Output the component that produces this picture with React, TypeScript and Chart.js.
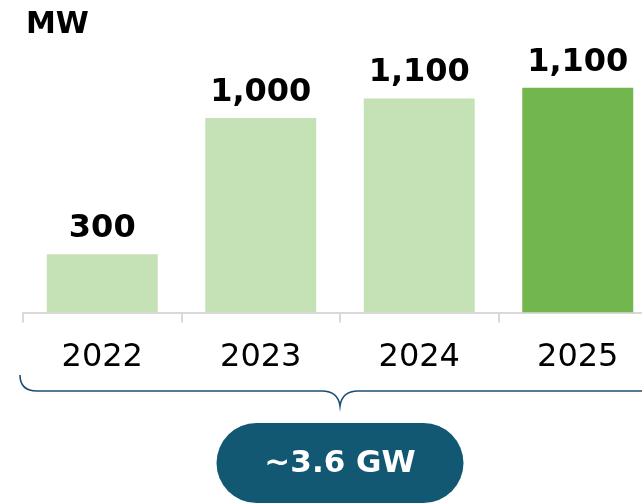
import React, { useEffect, useRef } from "react";
import { Chart, registerables } from "chart.js";

Chart.register(...registerables);

const categories = ["2022", "2023", "2024", "2025"];
const values = [300, 1000, 1100, 1155];
const valueLabels = ["300", "1,000", "1,100", "1,100"];
const barColors = ["#c5e2b6", "#c5e2b6", "#c5e2b6", "#72b74d"];
const unitLabel = "MW";
const totalLabel = "~3.6 GW";

const FONT = "'DejaVu Sans', Verdana, sans-serif";

const overlayPlugin = {
  id: "overlay",
  afterDatasetsDraw(chart: any) {
    const ctx = chart.ctx;
    const meta = chart.getDatasetMeta(0);
    ctx.save();
    // value labels
    ctx.fillStyle = "#000";
    ctx.font = `bold 32px ${FONT}`;
    ctx.textAlign = "center";
    ctx.textBaseline = "alphabetic";
    meta.data.forEach((bar: any, i: number) => {
      ctx.fillText(valueLabels[i], bar.x, bar.y - 17);
    });
    // unit label
    ctx.textAlign = "left";
    ctx.font = `bold 30px ${FONT}`;
    ctx.fillText(unitLabel, 26, 33);
    // brace
    const area = chart.chartArea;
    const left = area.left - 3;
    const right = area.right + 3;
    const mid = (left + right) / 2;
    const yTop = 375;
    const yLine = 391;
    const yTip = 406;
    ctx.strokeStyle = "#1b4f72";
    ctx.lineWidth = 1.6;
    ctx.beginPath();
    ctx.moveTo(left, yTop);
    ctx.quadraticCurveTo(left, yLine, left + 17, yLine);
    ctx.lineTo(mid - 18, yLine);
    ctx.quadraticCurveTo(mid - 2, yLine, mid, yTip);
    ctx.quadraticCurveTo(mid + 2, yLine, mid + 18, yLine);
    ctx.lineTo(right - 17, yLine);
    ctx.quadraticCurveTo(right, yLine, right, yTop);
    ctx.stroke();
    // pill
    const pw = 247;
    const ph = 80;
    const px = mid - pw / 2;
    const py = 423;
    const r = ph / 2;
    ctx.fillStyle = "#135873";
    ctx.beginPath();
    ctx.moveTo(px + r, py);
    ctx.lineTo(px + pw - r, py);
    ctx.arc(px + pw - r, py + r, r, -Math.PI / 2, Math.PI / 2);
    ctx.lineTo(px + r, py + ph);
    ctx.arc(px + r, py + r, r, Math.PI / 2, (3 * Math.PI) / 2);
    ctx.closePath();
    ctx.fill();
    ctx.fillStyle = "#fff";
    ctx.font = `bold 31px ${FONT}`;
    ctx.textAlign = "center";
    ctx.textBaseline = "middle";
    ctx.fillText(totalLabel, mid, py + ph / 2 + 1);
    ctx.restore();
  },
};

export default function App() {
  const ref = useRef<HTMLCanvasElement>(null);
  useEffect(() => {
    if (!ref.current) return;
    const chart = new Chart(ref.current, {
      type: "bar",
      data: {
        labels: categories,
        datasets: [
          {
            data: values,
            backgroundColor: barColors,
            borderWidth: 0,
            categoryPercentage: 1,
            barPercentage: 0.7,
          },
        ],
      },
      options: {
        animation: false,
        responsive: false,
        devicePixelRatio: 1,
        layout: { padding: { left: 23, right: 23, top: 40, bottom: 111 } },
        plugins: {
          legend: { display: false },
          tooltip: { enabled: false },
          title: { display: false },
        },
        scales: {
          x: {
            grid: {
              display: true,
              drawOnChartArea: false,
              drawTicks: true,
              tickLength: 10,
              color: "#d9d9d9",
              lineWidth: 2,
              offset: true,
            },
            border: { display: true, color: "#d9d9d9", width: 2 },
            ticks: {
              color: "#000",
              padding: 16,
              font: { family: FONT, size: 32 },
            },
          },
          y: {
            display: false,
            min: 0,
            max: 1400,
          },
        },
      },
      plugins: [overlayPlugin],
    });
    return () => chart.destroy();
  }, []);
  return (
    <div
      style={{
        position: "fixed",
        left: 0,
        top: 0,
        width: 642,
        height: 504,
        overflow: "hidden",
        background: "#fff",
      }}
    >
      <canvas ref={ref} width={680} height={504} />
    </div>
  );
}
